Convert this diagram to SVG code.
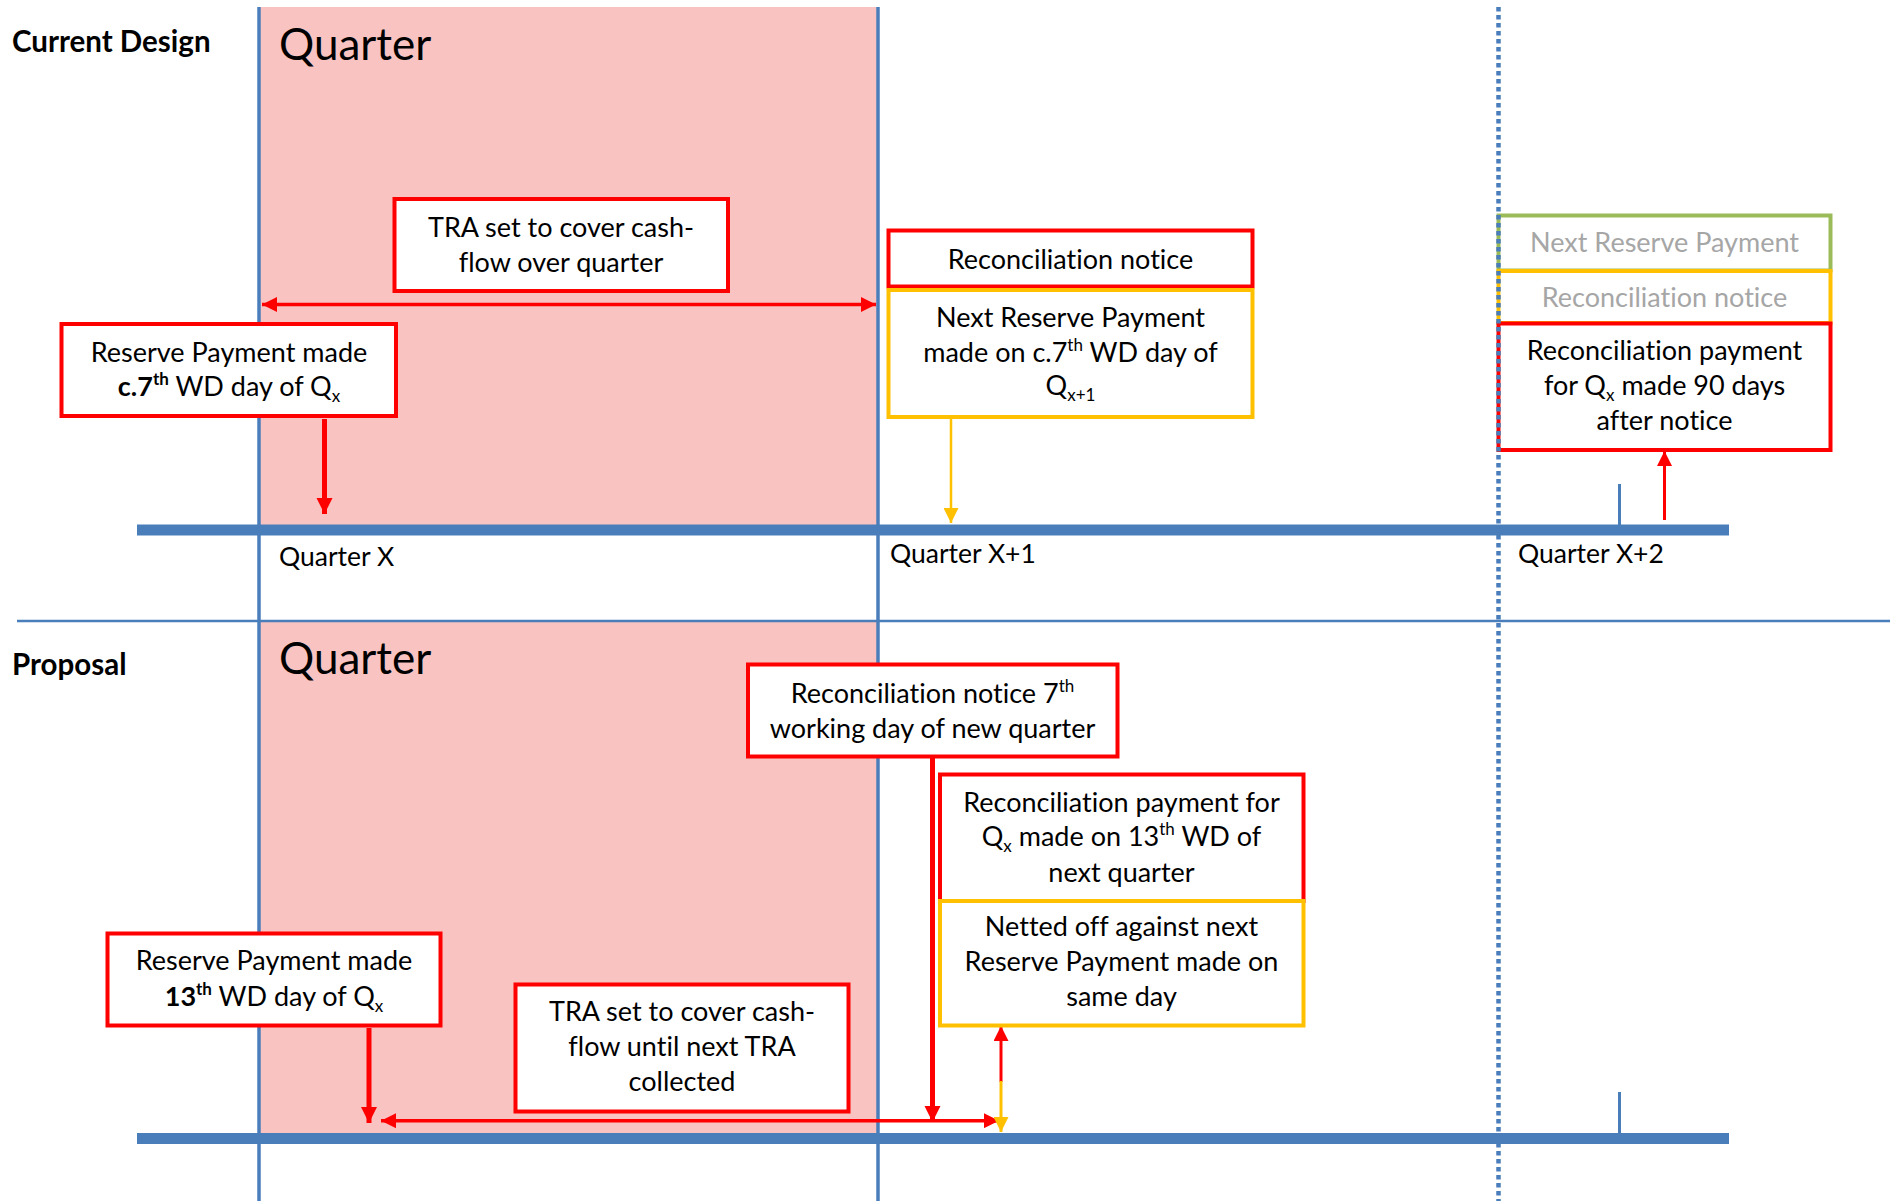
<svg xmlns="http://www.w3.org/2000/svg" width="1890" height="1201" viewBox="0 0 1890 1201">
<defs>
<style>
text{font-family:Lato,"Liberation Sans",sans-serif;fill:#000;font-variant-ligatures:none}
.t{font-size:27px;text-anchor:middle}
.g{fill:#A6A6A6}
.h{font-size:29.5px;font-weight:bold}
.q{font-size:44px}
.ql{font-size:26.5px}
.box{fill:#fff;stroke:#FF0000;stroke-width:4}
.ybox{fill:#fff;stroke:#FFC000;stroke-width:4}
.gbox{fill:#fff;stroke:#9BBB59;stroke-width:4}
.blue{stroke:#4A7EBB;fill:none}
.ra{stroke:#FF0000;fill:none}
.ya{stroke:#FFC000;fill:none}
</style>
<marker id="rh" viewBox="0 0 10 10" refX="10" refY="5" markerUnits="userSpaceOnUse" markerWidth="15" markerHeight="15" orient="auto-start-reverse"><path d="M0,0L10,5L0,10z" fill="#FF0000"/></marker>
<marker id="rh2" viewBox="0 0 10 10" refX="10" refY="5" markerUnits="userSpaceOnUse" markerWidth="16" markerHeight="17" orient="auto-start-reverse"><path d="M0,0L10,5L0,10z" fill="#FF0000"/></marker>
<marker id="yh" viewBox="0 0 10 10" refX="10" refY="5" markerUnits="userSpaceOnUse" markerWidth="15" markerHeight="15" orient="auto"><path d="M0,0L10,5L0,10z" fill="#FFC000"/></marker>
</defs>

<g id="background">
<rect x="259" y="7" width="619" height="523" fill="#F9C3C1"/>
<rect x="259" y="621" width="619" height="514" fill="#F9C3C1"/>
<line class="blue" x1="17" y1="621" x2="1890" y2="621" stroke-width="2.5"/>
<line class="blue" x1="259" y1="7" x2="259" y2="1201" stroke-width="3.5"/>
<line class="blue" x1="878" y1="7" x2="878" y2="1201" stroke-width="3.5"/>
<rect x="137" y="524.5" width="1592" height="11" fill="#4A7EBB"/>
<rect x="137" y="1133" width="1592" height="11" fill="#4A7EBB"/>
<line class="blue" x1="1619.5" y1="484" x2="1619.5" y2="525" stroke-width="3"/>
<line class="blue" x1="1619.5" y1="1092" x2="1619.5" y2="1134" stroke-width="3"/>
</g>

<g id="labels">
<text class="h" x="12" y="52">Current Design</text>
<text class="h" x="12" y="675">Proposal</text>
<text class="q" x="279" y="60">Quarter</text>
<text class="q" x="279" y="674">Quarter</text>
<text class="ql" x="279" y="566">Quarter X</text>
<text class="ql" x="890" y="563">Quarter X+1</text>
<text class="ql" x="1518" y="563">Quarter X+2</text>
</g>

<g id="connectors">
<line class="ra" x1="262" y1="304.5" x2="876" y2="304.5" stroke-width="3.5" marker-start="url(#rh)" marker-end="url(#rh)"/>
<line class="ra" x1="324.5" y1="419" x2="324.5" y2="514" stroke-width="5" marker-end="url(#rh2)"/>
<line class="ya" x1="951" y1="418" x2="951" y2="523" stroke-width="2.5" marker-end="url(#yh)"/>
<line class="ra" x1="1664.5" y1="520" x2="1664.5" y2="451" stroke-width="3" marker-end="url(#rh)"/>
<line class="ra" x1="369" y1="1028" x2="369" y2="1123" stroke-width="5" marker-end="url(#rh2)"/>
<line class="ra" x1="932.5" y1="757" x2="932.5" y2="1122" stroke-width="5" marker-end="url(#rh2)"/>
<line class="ra" x1="381" y1="1120.7" x2="999" y2="1120.7" stroke-width="3.5" marker-start="url(#rh)" marker-end="url(#rh)"/>
<line class="ra" x1="1001" y1="1082" x2="1001" y2="1026" stroke-width="3" marker-end="url(#rh)"/>
<line class="ya" x1="1001" y1="1081" x2="1001" y2="1132" stroke-width="3" marker-end="url(#yh)"/>
</g>

<g id="tra1">
<rect class="box" x="394.5" y="199" width="333.5" height="92"/>
<text class="t" x="561" y="236.5">TRA set to cover cash-</text>
<text class="t" x="561" y="271.5">flow over quarter</text>
</g>

<g id="reserve1">
<rect class="box" x="61.5" y="324" width="334.5" height="92"/>
<text class="t" x="229" y="361.5">Reserve Payment made</text>
<text class="t" x="229" y="396"><tspan font-weight="bold">c.7</tspan><tspan font-weight="bold" font-size="17" dy="-11">th</tspan><tspan dy="11"> WD day of Q</tspan><tspan font-size="17" dy="6">x</tspan></text>
</g>

<g id="recnotice1">
<rect class="box" x="888.5" y="230.5" width="364" height="56"/>
<text class="t" x="1070.5" y="269">Reconciliation notice</text>
</g>

<g id="nextreserve1">
<rect class="ybox" x="888.5" y="290" width="364" height="127"/>
<text class="t" x="1070.5" y="327">Next Reserve Payment</text>
<text class="t" x="1070.5" y="362">made on c.7<tspan font-size="17" dy="-11">th</tspan><tspan dy="11"> WD day of</tspan></text>
<text class="t" x="1070.5" y="395">Q<tspan font-size="17" dy="6">x+1</tspan></text>
</g>

<g id="nextreserve2">
<rect class="gbox" x="1498.5" y="215.5" width="332" height="55"/>
<text class="t g" x="1664.5" y="252">Next Reserve Payment</text>
</g>

<g id="recnotice2">
<rect class="ybox" x="1498.5" y="271" width="332" height="52"/>
<text class="t g" x="1664.5" y="307">Reconciliation notice</text>
</g>

<g id="recpayment1">
<rect class="box" x="1498.5" y="323.5" width="332" height="126.5"/>
<text class="t" x="1664.5" y="360">Reconciliation payment</text>
<text class="t" x="1664.5" y="395">for Q<tspan font-size="17" dy="6">x</tspan><tspan dy="-6"> made 90 days</tspan></text>
<text class="t" x="1664.5" y="430">after notice</text>
</g>

<g id="recnotice3">
<rect class="box" x="748" y="664.5" width="369.5" height="92"/>
<text class="t" x="932.5" y="702.5">Reconciliation notice 7<tspan font-size="17" dy="-11">th</tspan></text>
<text class="t" x="932.5" y="737.5">working day of new quarter</text>
</g>

<g id="recpayment2">
<rect class="box" x="940" y="774.5" width="363.5" height="126.5"/>
<text class="t" x="1121.5" y="811.5">Reconciliation payment for</text>
<text class="t" x="1121.5" y="846">Q<tspan font-size="17" dy="6">x</tspan><tspan dy="-6"> made on 13</tspan><tspan font-size="17" dy="-11">th</tspan><tspan dy="11"> WD of</tspan></text>
<text class="t" x="1121.5" y="881.5">next quarter</text>
</g>

<g id="netted">
<rect class="ybox" x="940" y="901" width="363.5" height="124.5"/>
<text class="t" x="1121.5" y="936">Netted off against next</text>
<text class="t" x="1121.5" y="971">Reserve Payment made on</text>
<text class="t" x="1121.5" y="1005.5">same day</text>
</g>

<g id="reserve2">
<rect class="box" x="107.5" y="933.5" width="333" height="92"/>
<text class="t" x="274" y="970">Reserve Payment made</text>
<text class="t" x="274" y="1005.5"><tspan font-weight="bold">13</tspan><tspan font-weight="bold" font-size="17" dy="-11">th</tspan><tspan dy="11"> WD day of Q</tspan><tspan font-size="17" dy="6">x</tspan></text>
</g>

<g id="tra2">
<rect class="box" x="515.5" y="984.5" width="333" height="127"/>
<text class="t" x="682" y="1020.5">TRA set to cover cash-</text>
<text class="t" x="682" y="1056">flow until next TRA</text>
<text class="t" x="682" y="1090.5">collected</text>
</g>

<g id="divider">
<line x1="1498.5" y1="7" x2="1498.5" y2="1201" stroke="#4A7EBB" stroke-width="4.5" stroke-dasharray="4.5 3.5"/>
</g>
</svg>
